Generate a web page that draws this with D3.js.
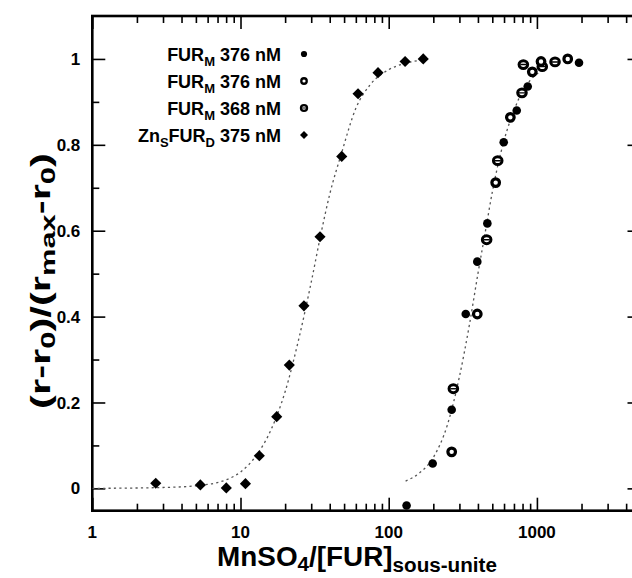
<!DOCTYPE html>
<html><head><meta charset="utf-8">
<script src="https://cdn.jsdelivr.net/npm/d3@7"></script>
<style>
body{margin:0;background:#fff}
text{font-family:"Liberation Sans",Arial,Helvetica,sans-serif;font-weight:bold;fill:#000}
</style>
</head><body>
<svg id="c" width="632" height="578"></svg>
<script>
// ---------- data ----------
const xTickValues = [1, 10, 100, 1000];
const xTickLabels = ["1", "10", "100", "1000"];
const yTickValues = [0, 0.2, 0.4, 0.6, 0.8, 1];
const yTickLabels = ["0", "0.2", "0.4", "0.6", "0.8", "1"];
const yMinorValues = [0.1, 0.3, 0.5, 0.7, 0.9];

// FUR_M 376 nM (filled dots)
const dotsX = [132, 198, 266, 331, 396, 463, 597, 731, 867, 1923];
const dotsY = [-0.04, 0.058, 0.183, 0.406, 0.528, 0.617, 0.806, 0.880, 0.936, 0.991];
// FUR_M 376 nM (rings)
const ringAX = [266, 396, 527, 662, 931, 1066, 1614];
const ringAY = [0.085, 0.406, 0.712, 0.864, 0.970, 0.994, 1.0];
// FUR_M 368 nM (rings with bar)
const ringBX = [273, 458, 544, 793, 810, 1087, 1325];
const ringBY = [0.232, 0.579, 0.763, 0.921, 0.987, 0.982, 0.993];
// Zn_S FUR_D 375 nM (diamonds)
const diaX = [2.68, 5.36, 8.02, 10.8, 13.4, 17.55, 21.35, 26.8, 34.4, 48.2, 62.1, 84.7, 129, 171];
const diaY = [0.012, 0.008, 0.001, 0.011, 0.076, 0.167, 0.287, 0.425, 0.586, 0.773, 0.919, 0.968, 0.994, 1.0];

// fitted curves
const fitLeftX = [1, 3, 5, 8, 10, 13, 16, 20, 25, 30, 35, 40, 48, 60, 75, 100, 130, 170];
const fitLeftY = [0, 0.002, 0.006, 0.02, 0.038, 0.08, 0.135, 0.225, 0.355, 0.48, 0.595, 0.685, 0.78, 0.885, 0.94, 0.975, 0.99, 0.998];
const fitRightX = [130, 160, 200, 250, 300, 350, 400, 450, 500, 600, 700, 800, 900, 1100];
const fitRightY = [0.017, 0.035, 0.072, 0.15, 0.26, 0.38, 0.5, 0.60, 0.69, 0.81, 0.88, 0.925, 0.95, 0.975];

const legendLabels = [
  [["FUR",0],["M",1],[" 376 nM",0]],
  [["FUR",0],["M",1],[" 376 nM",0]],
  [["FUR",0],["M",1],[" 368 nM",0]],
  [["Zn",0],["S",1],["FUR",0],["D",1],[" 375 nM",0]]
];
const legendMarkers = ["dot", "ringA", "ringB", "diamond"];

// ---------- chart ----------
const svg = d3.select("#c");
const L = 92.3, R = 640.5, T = 16, B = 510.7;
const x = d3.scaleLog().domain([1, 5000]).range([L, R]);
const y = d3.scaleLinear().domain([-0.052, 1.1]).range([B, T]);

const clipId = "plotclip";
svg.append("clipPath").attr("id", clipId).append("rect")
  .attr("x", L).attr("y", T).attr("width", R - L).attr("height", B - T);

// minor x ticks
const xMinor = [];
for (let d = 1; d < 5000; d *= 10) for (let k = 2; k <= 9; k++) if (d * k <= 5000) xMinor.push(d * k);

function styleAxis(g) {
  g.select(".domain").remove();
  g.selectAll(".tick line").attr("stroke", "#000").attr("stroke-width", 1.6);
  g.selectAll(".tick text").remove();
}
svg.append("g").attr("transform", `translate(0,${B})`)
  .call(d3.axisBottom(x).tickValues(xTickValues).tickSize(-13)).call(styleAxis);
svg.append("g").attr("transform", `translate(0,${B})`)
  .call(d3.axisBottom(x).tickValues(xMinor).tickSize(-7)).call(styleAxis);
svg.append("g").attr("transform", `translate(0,${T})`)
  .call(d3.axisTop(x).tickValues(xTickValues).tickSize(-13)).call(styleAxis);
svg.append("g").attr("transform", `translate(0,${T})`)
  .call(d3.axisTop(x).tickValues(xMinor).tickSize(-7)).call(styleAxis);
svg.append("g").attr("transform", `translate(${L},0)`)
  .call(d3.axisLeft(y).tickValues(yTickValues).tickSize(-13)).call(styleAxis);
svg.append("g").attr("transform", `translate(${L},0)`)
  .call(d3.axisLeft(y).tickValues(yMinorValues).tickSize(-7)).call(styleAxis);
svg.append("g").attr("transform", `translate(${R},0)`)
  .call(d3.axisRight(y).tickValues(yTickValues).tickSize(-13)).call(styleAxis);
svg.append("g").attr("transform", `translate(${R},0)`)
  .call(d3.axisRight(y).tickValues(yMinorValues).tickSize(-7)).call(styleAxis);

// frame
svg.append("rect").attr("x", L).attr("y", T).attr("width", R - L).attr("height", B - T)
  .attr("fill", "none").attr("stroke", "#000").attr("stroke-width", 2.6);

// tick labels
svg.append("g").selectAll("text").data(xTickValues).join("text")
  .attr("x", d => x(d)).attr("y", B + 27).attr("text-anchor", "middle")
  .attr("font-size", 17).text((d, i) => xTickLabels[i]);
svg.append("g").selectAll("text").data(yTickValues).join("text")
  .attr("x", L - 12).attr("y", d => y(d)).attr("dy", "0.36em").attr("text-anchor", "end")
  .attr("font-size", 17).text((d, i) => yTickLabels[i]);

// axis titles (stretched along their length to the extent seen in the picture)
function fitLength(sel, base, length) {
  const w = sel.node().getBBox().width;
  sel.attr("transform", `${base} scale(${length / w},1)`);
}
const xt = svg.append("text").attr("text-anchor", "middle").attr("font-size", 27);
xt.append("tspan").text("MnSO");
xt.append("tspan").attr("font-size", 20).attr("dy", 5).text("4");
xt.append("tspan").attr("dy", -5).text("/[FUR]");
xt.append("tspan").attr("font-size", 20).attr("dy", 6).text("sous-unite");
fitLength(xt, "translate(357,566)", 280);

const yt = svg.append("text").attr("text-anchor", "middle").attr("font-size", 27);
yt.append("tspan").text("(r-r");
yt.append("tspan").attr("font-size", 20).attr("dy", 5).text("0");
yt.append("tspan").attr("dy", -5).text(")/(r");
yt.append("tspan").attr("font-size", 20).attr("dy", 5).text("max");
yt.append("tspan").attr("dy", -5).text("-r");
yt.append("tspan").attr("font-size", 20).attr("dy", 5).text("0");
yt.append("tspan").attr("dy", -5).text(")");
fitLength(yt, "translate(50,281) rotate(-90)", 256);

// fitted curves
const plot = svg.append("g").attr("clip-path", `url(#${clipId})`);
const line = d3.line().x(d => x(d[0])).y(d => y(d[1])).curve(d3.curveMonotoneX);
[[fitLeftX, fitLeftY], [fitRightX, fitRightY]].forEach(([xs, ys]) => {
  plot.append("path").datum(xs.map((v, i) => [v, ys[i]])).attr("d", line)
    .attr("fill", "none").attr("stroke", "#555").attr("stroke-width", 1.3)
    .attr("stroke-dasharray", "2.2,3.2");
});

// markers
function drawMarker(g, type, cx, cy, s) {
  if (type === "dot") {
    g.append("circle").attr("cx", cx).attr("cy", cy).attr("r", 4.3 * s).attr("fill", "#000");
  } else if (type === "ringA") {
    g.append("circle").attr("cx", cx).attr("cy", cy).attr("r", 3.8 * s)
      .attr("fill", "#fff").attr("stroke", "#000").attr("stroke-width", 3.2 * s);
  } else if (type === "ringB") {
    g.append("ellipse").attr("cx", cx).attr("cy", cy).attr("rx", 4.3 * s).attr("ry", 3.9 * s)
      .attr("fill", "#fff").attr("stroke", "#000").attr("stroke-width", 3 * s);
    g.append("line").attr("x1", cx - 3 * s).attr("x2", cx + 3 * s).attr("y1", cy).attr("y2", cy)
      .attr("stroke", "#000").attr("stroke-width", 1.4 * s);
  } else {
    g.append("path").attr("d", d3.symbol(d3.symbolSquare, 62 * s * s)())
      .attr("transform", `translate(${cx},${cy}) rotate(45)`).attr("fill", "#000");
  }
}
const mg = plot.append("g");
diaX.forEach((v, i) => drawMarker(mg, "diamond", x(v), y(diaY[i]), 1));
ringBX.forEach((v, i) => drawMarker(mg, "ringB", x(v), y(ringBY[i]), 1));
ringAX.forEach((v, i) => drawMarker(mg, "ringA", x(v), y(ringAY[i]), 1));
dotsX.forEach((v, i) => drawMarker(mg, "dot", x(v), y(dotsY[i]), 1));

// legend
const lg = svg.append("g");
legendLabels.forEach((parts, i) => {
  const cy = 54 + i * 27;
  const t = lg.append("text").attr("x", 281).attr("y", cy + 6.5).attr("text-anchor", "end").attr("font-size", 18);
  let lowered = false;
  parts.forEach(([s, sub]) => {
    const ts = t.append("tspan").text(s);
    if (sub) { ts.attr("font-size", 13).attr("dy", lowered ? 0 : 5); lowered = true; }
    else if (lowered) { ts.attr("dy", -5); lowered = false; }
  });
  drawMarker(lg, legendMarkers[i], 304, cy, 0.72);
});
</script>
</body></html>
